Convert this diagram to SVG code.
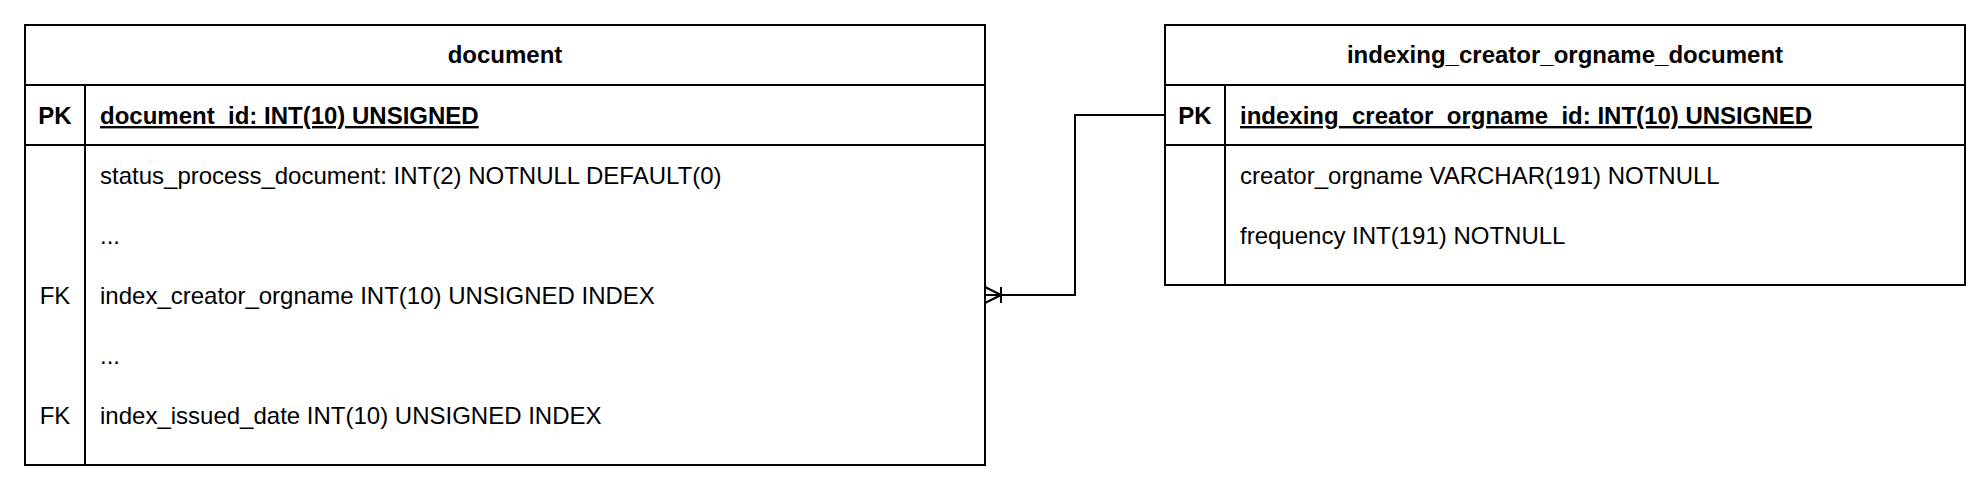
<svg xmlns="http://www.w3.org/2000/svg" width="1982" height="484" viewBox="0 0 1982 484">
<style>
.box{fill:#fff;stroke:#000;stroke-width:2}
.ln{stroke:#000;stroke-width:2;fill:none}
text{font-family:"Liberation Sans",Arial,sans-serif;font-size:24px;fill:#000}
.b{font-weight:bold}
.c{text-anchor:middle}
.u{text-decoration:underline}
</style>
<rect width="1982" height="484" fill="#fff"/>
<g id="document">
<rect class="box" x="25" y="25" width="960" height="440"/>
<line class="ln" x1="25" y1="85" x2="985" y2="85"/>
<line class="ln" x1="25" y1="145" x2="985" y2="145"/>
<line class="ln" x1="85" y1="85" x2="85" y2="465"/>
<text class="b c" x="505" y="63">document</text>
<text class="b c" x="55" y="124">PK</text>
<text class="b u" x="100" y="124">document_id: INT(10) UNSIGNED</text>
<text x="100" y="184">status_process_document: INT(2) NOTNULL DEFAULT(0)</text>
<text x="100" y="244">...</text>
<text class="c" x="55" y="304">FK</text>
<text x="100" y="304">index_creator_orgname INT(10) UNSIGNED INDEX</text>
<text x="100" y="364">...</text>
<text class="c" x="55" y="424">FK</text>
<text x="100" y="424">index_issued_date INT(10) UNSIGNED INDEX</text>
</g>
<g id="indexing_creator_orgname_document">
<rect class="box" x="1165" y="25" width="800" height="260"/>
<line class="ln" x1="1165" y1="85" x2="1965" y2="85"/>
<line class="ln" x1="1165" y1="145" x2="1965" y2="145"/>
<line class="ln" x1="1225" y1="85" x2="1225" y2="285"/>
<text class="b c" x="1565" y="63">indexing_creator_orgname_document</text>
<text class="b c" x="1195" y="124">PK</text>
<text class="b u" x="1240" y="124">indexing_creator_orgname_id: INT(10) UNSIGNED</text>
<text x="1240" y="184">creator_orgname VARCHAR(191) NOTNULL</text>
<text x="1240" y="244">frequency INT(191) NOTNULL</text>
</g>
<g id="connectors">
<polyline class="ln" points="1165,115 1075,115 1075,295 985,295"/>
<line class="ln" x1="1001" y1="287" x2="1001" y2="303"/>
<line class="ln" x1="985" y1="287" x2="1001" y2="295"/>
<line class="ln" x1="985" y1="303" x2="1001" y2="295"/>
</g>
</svg>
